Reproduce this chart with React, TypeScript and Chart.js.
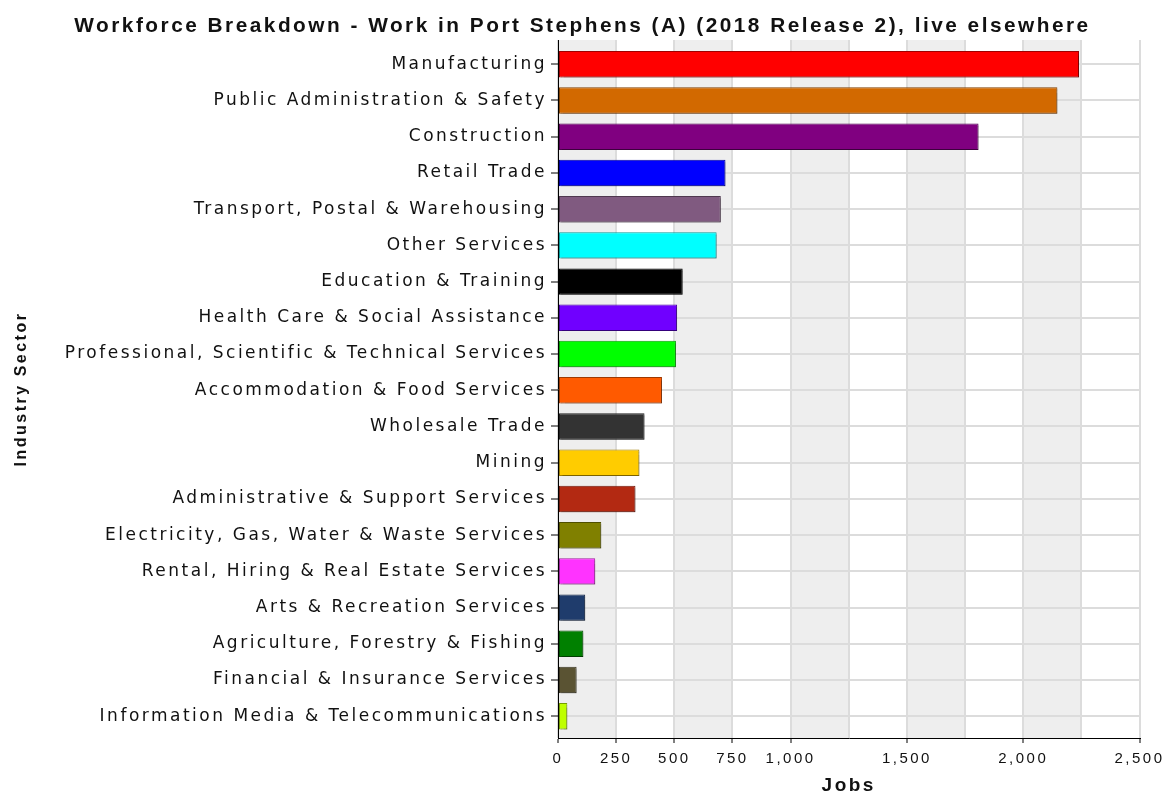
import React, { useEffect, useRef } from "react";
import { Chart, registerables } from "chart.js";

Chart.register(...registerables);

// ---- data ----
const chartTitle = "Workforce Breakdown - Work in Port Stephens (A) (2018 Release 2), live elsewhere";
const xAxisTitle = "Jobs";
const yAxisTitle = "Industry Sector";

const categories = [
  "Manufacturing",
  "Public Administration & Safety",
  "Construction",
  "Retail Trade",
  "Transport, Postal & Warehousing",
  "Other Services",
  "Education & Training",
  "Health Care & Social Assistance",
  "Professional, Scientific & Technical Services",
  "Accommodation & Food Services",
  "Wholesale Trade",
  "Mining",
  "Administrative & Support Services",
  "Electricity, Gas, Water & Waste Services",
  "Rental, Hiring & Real Estate Services",
  "Arts & Recreation Services",
  "Agriculture, Forestry & Fishing",
  "Financial & Insurance Services",
  "Information Media & Telecommunications",
];

const jobs = [2240, 2147, 1808, 720, 700, 682, 536, 512, 507, 447, 372, 350, 333, 186, 160, 117, 109, 80, 40];

const barColors = [
  "#ff0000", "#d26900", "#800080", "#0000ff", "#805a80", "#00ffff", "#000000",
  "#7000ff", "#00ff00", "#ff5a00", "#333333", "#ffcc00", "#b32912", "#808000",
  "#ff33ff", "#1f3c6c", "#008000", "#5a5333", "#bfff00",
];

const xMin = 0;
const xMax = 2500;
const xStep = 250;
const xTickLabels = [0, 250, 500, 750, 1000, 1500, 2000, 2500];

// ---- layout / style ----
const W = 1165;
const H = 806;
const FONT = "'Liberation Sans', Arial, Helvetica, sans-serif";
const LABEL_FONT = "'DejaVu Sans', Verdana, sans-serif";
const SPACING = "2.5px";
const CAT_MARGIN_TOP = 0.17;
const CAT_MARGIN_BOTTOM = 0.1;

function darken(hex: string, f: number): string {
  const n = parseInt(hex.slice(1), 16);
  const r = Math.round(((n >> 16) & 255) * f);
  const g = Math.round(((n >> 8) & 255) * f);
  const b = Math.round((n & 255) * f);
  return `rgb(${r},${g},${b})`;
}

const spacingPlugin = {
  id: "letterSpacing",
  afterInit(chart: any) { chart.ctx.letterSpacing = SPACING; },
  beforeUpdate(chart: any) { chart.ctx.letterSpacing = SPACING; },
  beforeDraw(chart: any) { chart.ctx.letterSpacing = SPACING; },
};

const bandsPlugin = {
  id: "bands",
  beforeDraw(chart: any) {
    const { ctx, chartArea, scales } = chart;
    const x = scales.x;
    ctx.save();
    ctx.fillStyle = "#eeeeee";
    const ticks = x.ticks;
    for (let i = 0; i < ticks.length - 1; i += 2) {
      const a = x.getPixelForValue(ticks[i].value);
      const b = x.getPixelForValue(ticks[i + 1].value);
      ctx.fillRect(a, chartArea.top, b - a, chartArea.bottom - chartArea.top);
    }
    ctx.restore();
  },
};

const shadowPlugin = {
  id: "barShadow",
  beforeDatasetsDraw(chart: any) {
    const ctx = chart.ctx;
    ctx.save();
    ctx.shadowColor = "rgba(0,0,0,0.22)";
    ctx.shadowOffsetX = 2;
    ctx.shadowOffsetY = 2;
    ctx.shadowBlur = 1;
  },
  afterDatasetsDraw(chart: any) {
    chart.ctx.restore();
  },
};

// category axis margins (extra space above first and below last category)
function addCategoryMargins(scale: any) {
  scale._startValue -= CAT_MARGIN_TOP;
  scale._valueRange += CAT_MARGIN_TOP + CAT_MARGIN_BOTTOM;
}

export default function App() {
  const ref = useRef<HTMLCanvasElement | null>(null);

  useEffect(() => {
    document.body.style.margin = "0";
    const canvas = ref.current;
    if (!canvas) return;
    const chart = new Chart(canvas, {
      type: "bar",
      data: {
        labels: categories,
        datasets: [
          {
            data: jobs,
            backgroundColor: barColors,
            borderColor: barColors.map((c) => darken(c, 0.62)),
            borderWidth: 1,
            borderSkipped: false,
            barPercentage: 0.73,
            categoryPercentage: 1,
          },
        ],
      },
      options: {
        indexAxis: "y",
        responsive: false,
        animation: false,
        events: [],
        layout: { padding: 0 },
        plugins: {
          legend: { display: false },
          tooltip: { enabled: false },
          title: {
            display: true,
            text: chartTitle,
            color: "#111",
            font: { family: FONT, size: 20.8, weight: "bold" },
            padding: { top: 14, bottom: 1.04 },
          },
        },
        scales: {
          x: {
            type: "linear",
            min: xMin,
            max: xMax,
            afterFit: (s: any) => {
              s.height = H - 738;
              s.paddingRight = 25.5;
            },
            ticks: {
              stepSize: xStep,
              autoSkip: false,
              maxRotation: 0,
              color: "#111",
              padding: 7,
              font: { family: FONT, size: 15 },
              callback: (v: any) => (xTickLabels.includes(Number(v)) ? Number(v).toLocaleString("en-US") : ""),
            },
            grid: {
              color: "#dcdcdc",
              lineWidth: 2,
              tickLength: 5,
              tickWidth: 1,
              tickColor: (c: any) => (c.tick && xTickLabels.includes(c.tick.value) ? "#000" : "rgba(0,0,0,0)"),
            },
            border: { color: "#000", width: 1 },
            title: {
              display: true,
              text: xAxisTitle,
              color: "#111",
              font: { family: FONT, size: 19, weight: "bold" },
              padding: { top: 0, bottom: 8.6 },
            },
          },
          y: {
            type: "category",
            afterBuildTicks: addCategoryMargins,
            afterFit: (s: any) => {
              s.width = 558;
            },
            ticks: {
              autoSkip: false,
              color: "#111",
              padding: 4,
              font: { family: LABEL_FONT, size: 17 },
            },
            grid: {
              offset: false,
              color: "#dcdcdc",
              lineWidth: 2,
              tickLength: 7,
              tickWidth: 1,
              tickColor: "#000",
            },
            border: { color: "#000", width: 1 },
            title: {
              display: true,
              text: yAxisTitle,
              color: "#111",
              font: { family: FONT, size: 16, weight: "bold" },
              padding: { top: 12, bottom: 0 },
            },
          },
        },
      },
      plugins: [spacingPlugin, bandsPlugin, shadowPlugin],
    } as any);
    return () => chart.destroy();
  }, []);

  return (
    <div style={{ width: W, height: 792, overflow: "hidden", background: "#fff" }}>
      <canvas ref={ref} width={W} height={H} style={{ display: "block", width: W, height: H }} />
    </div>
  );
}
